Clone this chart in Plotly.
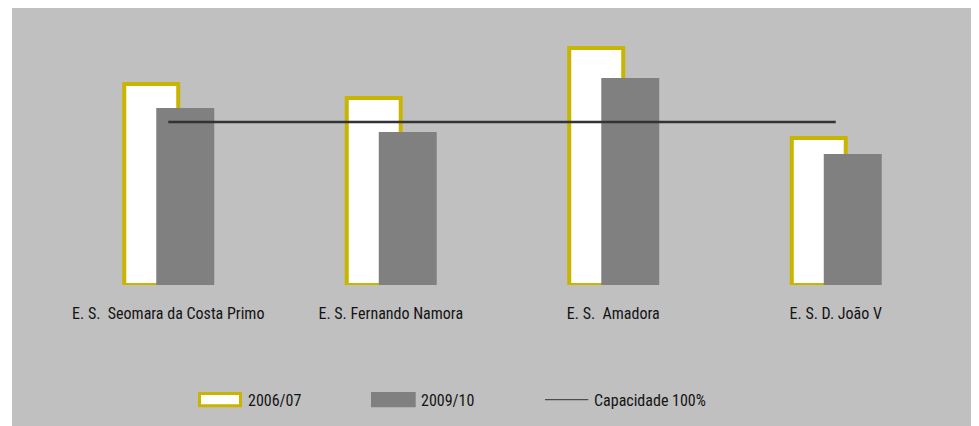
import plotly.graph_objects as go

# ---- data ----
schools = ["E. S.  Seomara da Costa Primo", "E. S. Fernando Namora", "E. S.  Amadora", "E. S. D. João V"]
occ_2006 = [123.4, 114.8, 145.5, 90.2]
occ_2009 = [108.7, 93.9, 127.1, 80.4]
capacity = [100, 100, 100, 100]
legend_labels = ["2006/07", "2009/10", "Capacidade 100%"]

# ---- style ----
W, H = 979, 426
OFF = 8  # page body margin
BG = "#c0c0c0"
YEL = "#c9b400"
GRAY = "#808080"
FONT = "Roboto Condensed, DejaVu Sans Condensed, sans-serif"
TXT = "#141414"
FS = 16

# plot area in screen px: x 56.7..947.1, y 8..285
ML = 57 - OFF
MR = W - (947 - OFF)
MT = 0
MB = H - (285 - OFF)
PW, PH = W - ML - MR, H - MT - MB


def px2x(px):
    return (px - OFF - ML) / PW


def py2y(py):
    return (H - MB - (py - OFF)) / PH


fig = go.Figure()
fig.add_trace(go.Bar(
    x=schools, y=occ_2006, name=legend_labels[0],
    width=0.2426, offset=-0.1977,
    marker=dict(color="white", line=dict(color=YEL, width=4)),
    showlegend=False,
))
fig.add_trace(go.Bar(
    x=schools, y=occ_2009, name=legend_labels[1],
    width=0.2606, offset=-0.0539,
    marker=dict(color=GRAY, line=dict(width=0)),
    showlegend=False,
))
fig.add_trace(go.Scatter(
    x=schools, y=capacity, name=legend_labels[2], mode="lines",
    line=dict(color="#333333", width=2.5),
    showlegend=False,
))

shapes = [
    # white outer margin (left)
    dict(type="rect", xref="paper", yref="paper", x0=px2x(0), x1=px2x(12), y0=py2y(H + OFF), y1=py2y(0),
         fillcolor="white", line=dict(width=0), layer="above"),
    # legend symbols
    dict(type="rect", xref="paper", yref="paper", x0=px2x(199.5), x1=px2x(240.5), y0=py2y(405.8), y1=py2y(393.5),
         fillcolor="white", line=dict(color=YEL, width=3)),
    dict(type="rect", xref="paper", yref="paper", x0=px2x(371), x1=px2x(415.7), y0=py2y(407.3), y1=py2y(392),
         fillcolor=GRAY, line=dict(width=0)),
    dict(type="line", xref="paper", yref="paper", x0=px2x(545), x1=px2x(588.3), y0=py2y(399.7), y1=py2y(399.7),
         line=dict(color="#333333", width=1)),
]

annotations = []
for lab, px in zip(legend_labels, [247.7, 420.7, 594]):
    annotations.append(dict(
        text=lab, xref="paper", yref="paper", x=px2x(px), y=py2y(400.5),
        xanchor="left", yanchor="middle", showarrow=False, xshift=-2,
        font=dict(family=FONT, size=FS, color=TXT),
    ))

fig.update_layout(
    width=W, height=H,
    margin=dict(l=ML, r=MR, t=MT, b=MB),
    paper_bgcolor=BG, plot_bgcolor=BG,
    barmode="overlay",
    showlegend=False,
    shapes=shapes,
    annotations=annotations,
    xaxis=dict(type="category", range=[-0.5, 3.5], showgrid=False, zeroline=False, showline=False,
               ticks="", ticklabelstandoff=17, tickfont=dict(family=FONT, size=FS, color=TXT)),
    yaxis=dict(range=[0, 170], visible=False),
)

fig.write_html("out.html")
